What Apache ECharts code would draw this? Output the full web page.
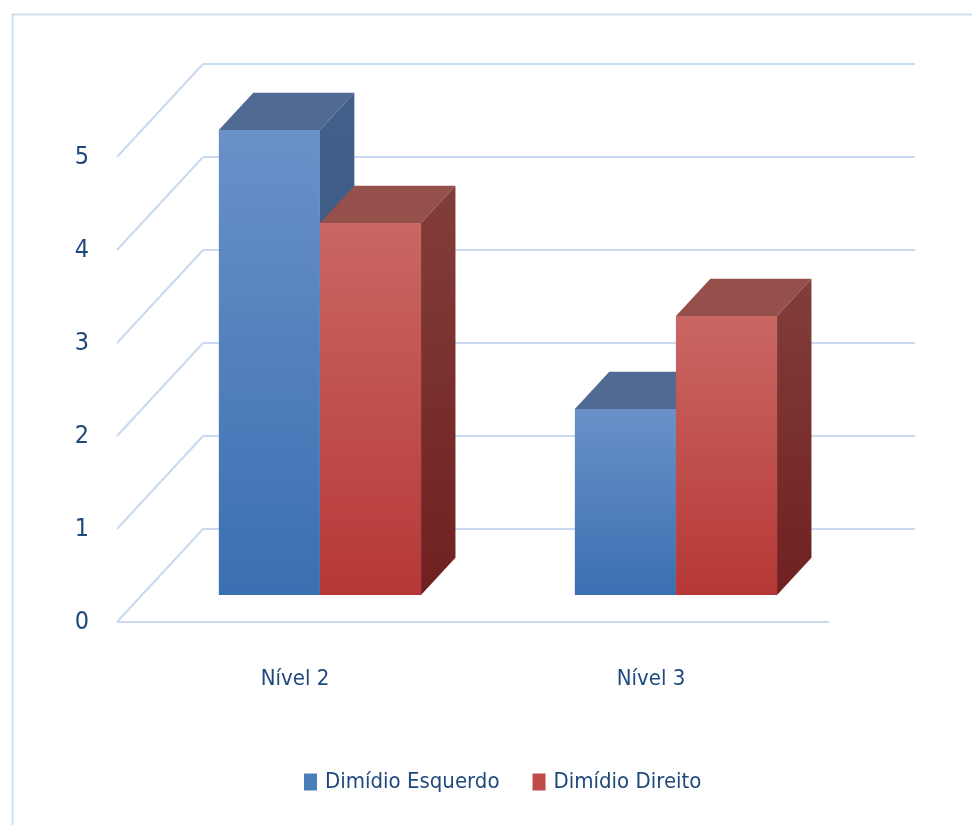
<!DOCTYPE html>
<html>
<head>
<meta charset="utf-8">
<script src="https://cdn.jsdelivr.net/npm/echarts@6/dist/echarts.min.js"></script>
<style>
html,body{margin:0;padding:0;background:#fff;}
#chart{width:972px;height:825px;}
</style>
</head>
<body>
<div id="chart"></div>
<script>
const categories = ['Nível 2', 'Nível 3'];
const seriesNames = ['Dimídio Esquerdo', 'Dimídio Direito'];
const esquerdo = [5, 2];
const direito = [4, 3];
const yTicks = [0, 1, 2, 3, 4, 5];

const FONT = '"Liberation Sans Narrow", "DejaVu Sans Condensed", "Liberation Sans", sans-serif';
const TEXT = '#1F497D';
const GRIDC = '#C9DAF0';

// 3D projection parameters (fractions of one y unit)
const DEPTH_X = 0.925, DEPTH_Y = 1.0;
const F1 = 0.29, F2 = 0.69;
const BAR_FRAC = 0.284;

const palettes = [
  { front: ['#6A91C8', '#3A6FB1'], top: '#506A94', side: ['#42608A', '#36527A'], legend: '#4A7EBB' },
  { front: ['#C96763', '#B63836'], top: '#96504C', side: ['#823E3A', '#702020'], legend: '#BE4B48' }
];

function barRender(sIdx) {
  return function (params, api) {
    const cat = api.value(0), val = api.value(1);
    const p0 = api.coord([cat, 0]);
    const p1 = api.coord([cat, val]);
    const unit = api.coord([cat, 0])[1] - api.coord([cat, 1])[1];
    const band = api.size([1, 0])[0];
    const dX = unit * DEPTH_X, dY = unit * DEPTH_Y;
    const bw = band * BAR_FRAC;
    const xL = p0[0] + (sIdx - 1) * bw + F1 * dX;
    const xR = xL + bw;
    const yB = p0[1] - F1 * dY;
    const yT = p1[1] - F1 * dY;
    const ddx = (F2 - F1) * dX, ddy = (F2 - F1) * dY;
    const pal = palettes[sIdx];
    const vgrad = (c) => new echarts.graphic.LinearGradient(0, 0, 0, 1, [{offset: 0, color: c[0]}, {offset: 1, color: c[1]}]);
    return {
      type: 'group',
      children: [
        { type: 'polygon', shape: { points: [[xL, yT], [xR, yT], [xR, yB], [xL, yB]] }, style: { fill: vgrad(pal.front) } },
        { type: 'polygon', shape: { points: [[xL, yT], [xR, yT], [xR + ddx, yT - ddy], [xL + ddx, yT - ddy]] }, style: { fill: pal.top } },
        { type: 'polygon', shape: { points: [[xR, yT], [xR + ddx, yT - ddy], [xR + ddx, yB - ddy], [xR, yB]] }, style: { fill: vgrad(pal.side) } }
      ]
    };
  };
}

function gridRender(params, api) {
  const v = api.value(1);
  const n = categories.length;
  const band = api.size([1, 0])[0];
  const pa = api.coord([0, v]);
  const pb = api.coord([n - 1, v]);
  const unit = api.coord([0, 0])[1] - api.coord([0, 1])[1];
  const dX = unit * DEPTH_X, dY = unit * DEPTH_Y;
  const left = pa[0] - band / 2;
  const right = pb[0] + band / 2;
  const y = pa[1];
  const st = { stroke: GRIDC, lineWidth: 2, fill: null };
  const children = [
    { type: 'line', shape: { x1: left, y1: y, x2: left + dX, y2: y - dY }, style: st },
    { type: 'line', shape: { x1: left + dX, y1: y - dY, x2: right + dX, y2: y - dY }, style: st }
  ];
  if (v === 0) {
    children.push({ type: 'line', shape: { x1: left, y1: y, x2: right, y2: y }, style: st });
  }
  return { type: 'group', children: children };
}

const chart = echarts.init(document.getElementById('chart'));
chart.setOption({
  animation: false,
  backgroundColor: '#ffffff',
  textStyle: { fontFamily: FONT },
  graphic: [{
    type: 'rect', left: 10, top: 12, silent: true,
    shape: { width: 980, height: 900 },
    style: { fill: null, stroke: '#CFDEF1', lineWidth: 2 }
  }],
  grid: { left: 117, right: 143, top: 157, bottom: 203, outerBoundsMode: 'none' },
  legend: {
    data: seriesNames,
    left: 299, top: 766,
    itemWidth: 13, itemHeight: 17, itemGap: 33,
    icon: 'rect',
    textStyle: { color: TEXT, fontSize: 22, fontFamily: FONT, padding: [0, 0, 0, 3] }
  },
  xAxis: {
    type: 'category', data: categories,
    axisLine: { show: false }, axisTick: { show: false },
    axisLabel: { color: TEXT, fontSize: 22, fontFamily: FONT, margin: 46 },
    splitLine: { show: false }
  },
  yAxis: {
    type: 'value', min: 0, max: 5, interval: 1,
    axisLine: { show: false }, axisTick: { show: false },
    axisLabel: { color: TEXT, fontSize: 25, fontFamily: FONT, margin: 28 },
    splitLine: { show: false }
  },
  series: [
    {
      type: 'custom', name: '__grid', z: 1, silent: true,
      renderItem: gridRender,
      data: yTicks.map(v => [0, v])
    },
    {
      type: 'custom', name: seriesNames[0], z: 2,
      itemStyle: { color: palettes[0].legend },
      renderItem: barRender(0),
      data: esquerdo.map((v, i) => [i, v])
    },
    {
      type: 'custom', name: seriesNames[1], z: 2,
      itemStyle: { color: palettes[1].legend },
      renderItem: barRender(1),
      data: direito.map((v, i) => [i, v])
    }
  ]
});
</script>
</body>
</html>
